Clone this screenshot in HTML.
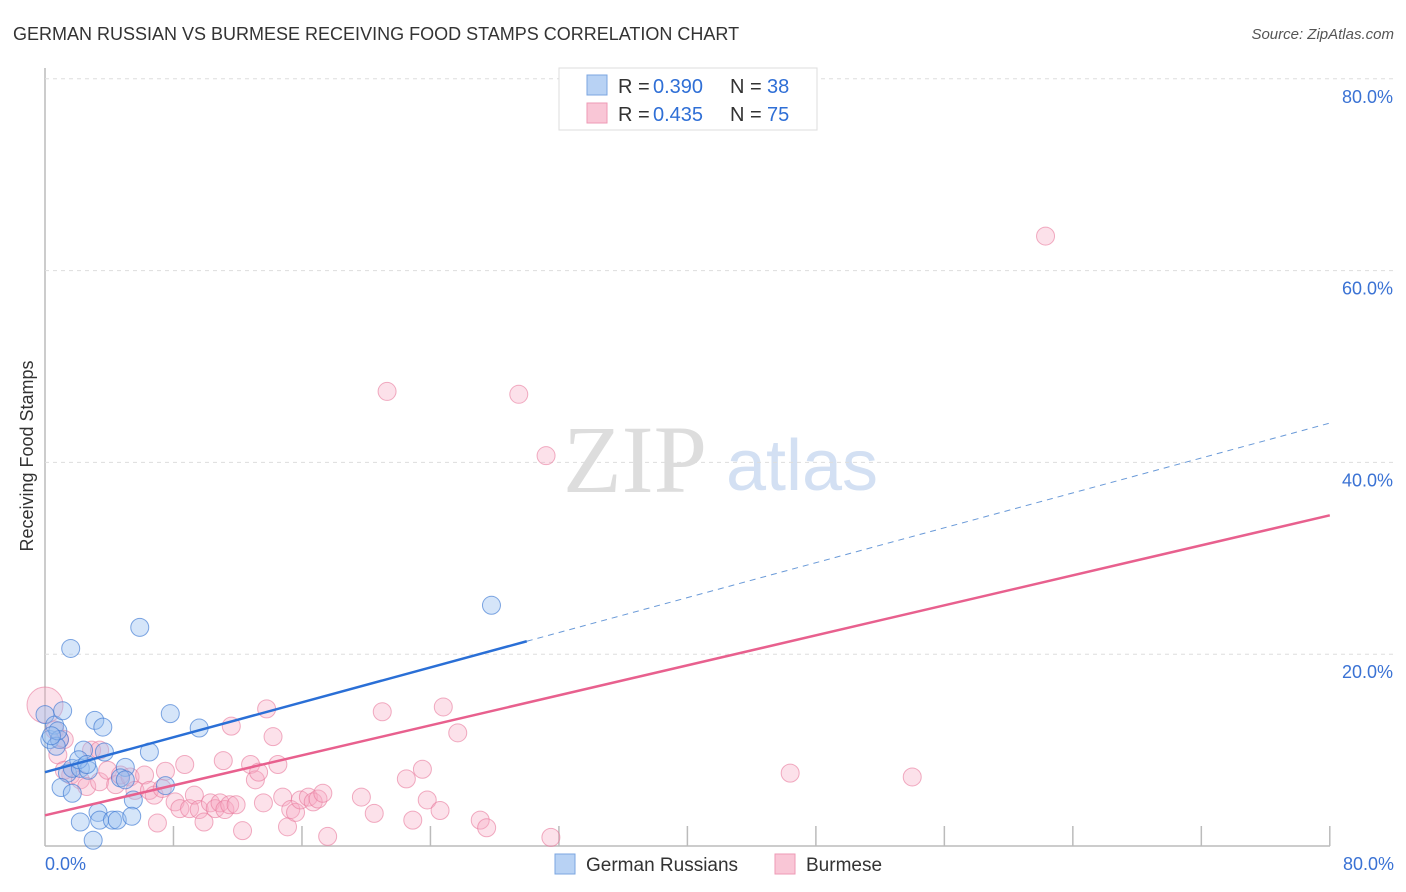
<!DOCTYPE html>
<html><head><meta charset="utf-8"><style>
body{margin:0;background:#fff;font-family:"Liberation Sans",sans-serif;}
#wrap{position:relative;width:1406px;height:892px;overflow:hidden}
</style></head><body>
<div id="wrap">
<svg id="svg" width="1406" height="892" xmlns="http://www.w3.org/2000/svg">
<text x="13" y="40" font-size="18" fill="#333">GERMAN RUSSIAN VS BURMESE RECEIVING FOOD STAMPS CORRELATION CHART</text>
<text x="1394" y="39" font-size="15" fill="#555" font-style="italic" text-anchor="end">Source: ZipAtlas.com</text>
<text x="33" y="456" font-size="18" fill="#333" text-anchor="middle" transform="rotate(-90 33 456)">Receiving Food Stamps</text>
<text x="635" y="492" font-size="96" fill="#ddd" text-anchor="middle" font-family="Liberation Serif">ZIP</text>
<text x="802" y="490" font-size="72" fill="#d3e0f3" text-anchor="middle">atlas</text>
<g id="grid"></g><g id="pts"></g><g id="lines"></g>
<g>
<rect x="559" y="68" width="258" height="62" fill="#fff" stroke="#ddd"/>
<rect x="587" y="75" width="20" height="20" fill="#b8d2f4" stroke="#7ba6e0"/>
<rect x="587" y="103" width="20" height="20" fill="#f9c6d6" stroke="#ee9ab5"/>
<text x="618" y="93" font-size="20" fill="#333">R = </text><text x="653" y="93" font-size="20" fill="#2f6fd6">0.390</text>
<text x="730" y="93" font-size="20" fill="#333">N = </text><text x="767" y="93" font-size="20" fill="#2f6fd6">38</text>
<text x="618" y="121" font-size="20" fill="#333">R = </text><text x="653" y="121" font-size="20" fill="#2f6fd6">0.435</text>
<text x="730" y="121" font-size="20" fill="#333">N = </text><text x="767" y="121" font-size="20" fill="#2f6fd6">75</text>
</g>
<g>
<rect x="555" y="854" width="20" height="20" fill="#b8d2f4" stroke="#7ba6e0"/>
<text x="586" y="871" font-size="19" fill="#333">German Russians</text>
<rect x="775" y="854" width="20" height="20" fill="#f9c6d6" stroke="#ee9ab5"/>
<text x="806" y="871" font-size="19" fill="#333">Burmese</text>
</g>
</svg>
</div>
<script>
const yTicks=[20,40,60,80];
const xTickLabels=["0.0%","80.0%"];
const blueX=[0,0.3,0.6,0.9,1.1,0.7,1.4,1.7,1.0,1.7,2.2,2.4,2.7,2.1,3.1,3.6,3.7,1.6,5.9,5.0,4.7,5.0,5.5,6.5,7.5,7.8,9.6,2.2,3.3,3.4,4.2,4.5,5.4,3.0,27.8,0.8,0.4,2.6];
const blueY=[13.7,11.1,12.6,11.1,14.1,10.4,7.6,8.1,6.1,5.5,8.1,10.0,7.9,9.0,13.1,12.4,9.8,20.6,22.8,8.2,7.1,6.9,4.8,9.8,6.3,13.8,12.3,2.5,3.5,2.7,2.7,2.7,3.1,0.6,25.1,12.0,11.5,8.5];
const pinkX=[0,0.6,0.9,1.2,0.8,1.6,2.2,2.6,2.9,3.4,3.9,4.4,4.7,5.3,5.6,6.2,6.5,6.8,7.3,7.5,8.1,8.4,8.7,9.0,9.3,9.6,9.9,10.3,10.6,10.9,11.2,11.5,11.9,11.1,11.6,12.3,12.8,13.1,13.3,13.6,13.8,14.2,14.5,14.8,15.1,15.3,15.6,15.9,16.4,16.7,17.0,17.3,17.6,19.7,20.5,21.0,21.3,22.5,22.9,23.5,23.8,24.6,24.8,25.7,27.1,27.5,29.5,31.2,31.5,46.4,54.0,62.3,7.0,3.4,1.2];
const pinkY=[14.7,12.1,11.1,11.1,9.5,7.4,6.9,6.2,10.0,6.7,7.9,6.4,7.4,7.2,5.8,7.4,5.8,5.3,6.0,7.8,4.6,3.9,8.5,3.9,5.3,3.8,2.5,4.5,3.9,4.5,3.8,4.3,4.3,8.9,12.5,1.6,8.5,6.9,7.7,4.5,14.3,11.4,8.5,5.1,2.0,3.8,3.5,4.8,5.1,4.6,4.9,5.5,1.0,5.1,3.4,14.0,47.4,7.0,2.7,8.0,4.8,3.7,14.5,11.8,2.7,1.9,47.1,40.7,0.9,7.6,7.2,63.6,2.4,10.0,7.9];
const blueFit=[7.7,0.455];
const pinkFit=[3.2,0.391];
const NS='http://www.w3.org/2000/svg';
const X=v=>45+v*16.06, Y=v=>846-v*9.59;
function mk(t,a,p){const e=document.createElementNS(NS,t);for(const k in a)e.setAttribute(k,a[k]);p.appendChild(e);return e;}
const grid=document.getElementById('grid');
let ax=mk('line',{x1:45,y1:68,x2:45,y2:846,stroke:'#bbb','stroke-width':1.5},grid);


let bx=mk('line',{x1:45,y1:846,x2:1330,y2:846,stroke:'#bbb','stroke-width':1.5},grid);


yTicks.forEach(t=>{
 let g=mk('line',{x1:45,y1:Y(t),x2:1394,y2:Y(t),stroke:'#ddd','stroke-dasharray':'4,4'},grid);
 
 
 let l=mk('text',{x:1393,y:Y(t)+24,'font-size':18,fill:'#3a72d4','text-anchor':'end'},grid);
 l.textContent=t.toFixed(1)+'%';
 
 
});
for(let i=1;i<=10;i++){
 let t=mk('line',{x1:X(i*8),y1:826,x2:X(i*8),y2:846,stroke:'#bbb','stroke-width':1.5},grid);
 
 
}
[[0,'start',45],[80,'end',1394]].forEach((d,i)=>{
 let l=mk('text',{x:d[2],y:870,'font-size':18,fill:'#3a72d4','text-anchor':d[1]},grid);
 l.textContent=xTickLabels[i];
 
 
});
const pts=document.getElementById('pts');
pinkX.forEach((x,i)=>{
 let c=mk('circle',{cx:X(x),cy:Y(pinkY[i]),r:i==0?18:9,fill:'rgba(246,170,195,0.35)',stroke:'rgba(232,120,155,0.6)','stroke-width':1},pts);
 
 
});
blueX.forEach((x,i)=>{
 let c=mk('circle',{cx:X(x),cy:Y(blueY[i]),r:9,fill:'rgba(150,190,240,0.4)',stroke:'rgba(60,120,210,0.65)','stroke-width':1},pts);
 
 
});
const ln=document.getElementById('lines');
let b1=mk('line',{x1:X(0),y1:Y(blueFit[0]),x2:X(30),y2:Y(blueFit[0]+blueFit[1]*30),stroke:'#2a6fd6','stroke-width':2.5},ln);


let b2=mk('line',{x1:X(30),y1:Y(blueFit[0]+blueFit[1]*30),x2:X(80),y2:Y(blueFit[0]+blueFit[1]*80),stroke:'#6a9ad8','stroke-width':1,'stroke-dasharray':'6,5'},ln);


let p1=mk('line',{x1:X(0),y1:Y(pinkFit[0]),x2:X(80),y2:Y(pinkFit[0]+pinkFit[1]*80),stroke:'#e8608e','stroke-width':2.5},ln);


</script>
</body></html>
